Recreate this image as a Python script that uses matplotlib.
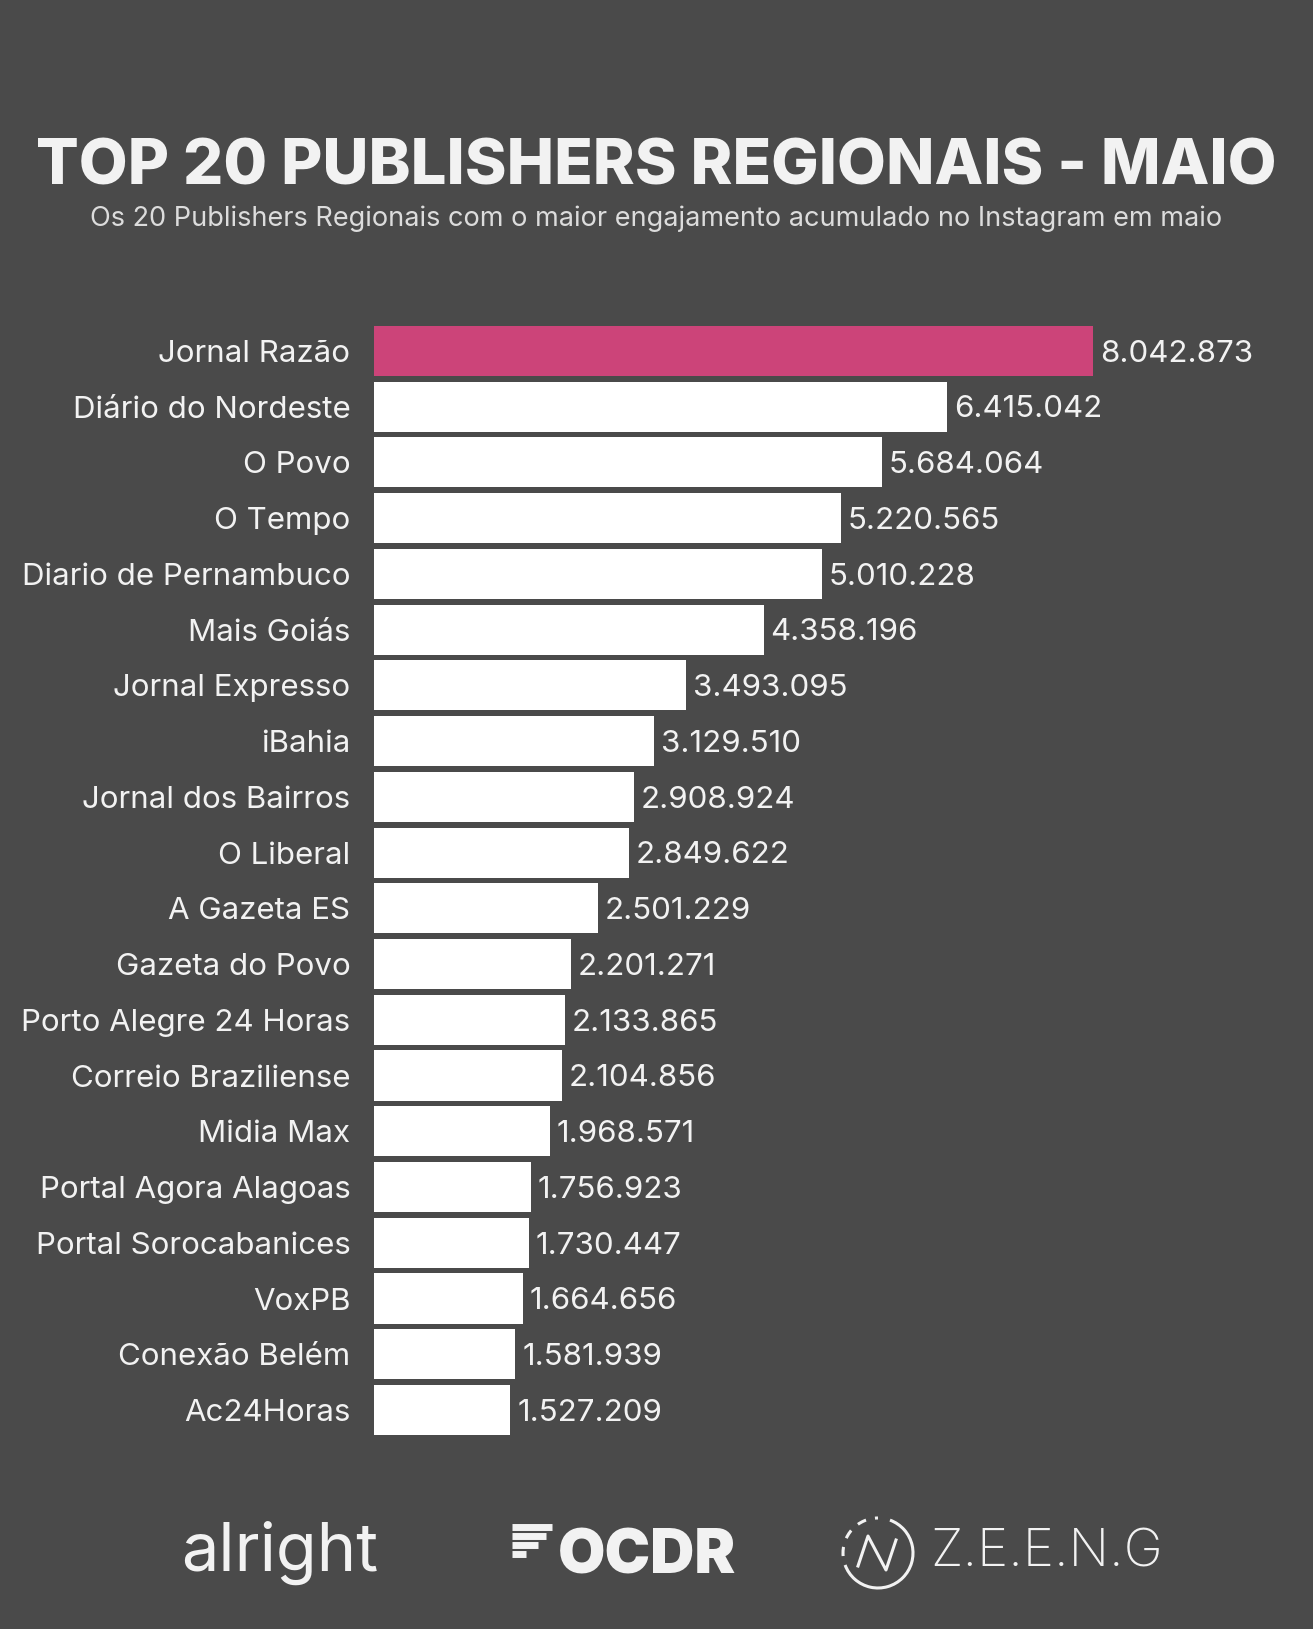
#!/usr/bin/env python3
import matplotlib
matplotlib.use("Agg")
import matplotlib.pyplot as plt
from matplotlib.patches import Arc

BG = "#4a4a4a"
PINK = "#cc4479"
TEXT = "#f2f2f2"

PUBLISHERS = [
    "Jornal Razão", "Diário do Nordeste", "O Povo", "O Tempo",
    "Diario de Pernambuco", "Mais Goiás", "Jornal Expresso", "iBahia",
    "Jornal dos Bairros", "O Liberal", "A Gazeta ES", "Gazeta do Povo",
    "Porto Alegre 24 Horas", "Correio Braziliense", "Midia Max",
    "Portal Agora Alagoas", "Portal Sorocabanices", "VoxPB",
    "Conexão Belém", "Ac24Horas",
]
ENGAGEMENT = [
    8042873, 6415042, 5684064, 5220565, 5010228, 4358196, 3493095,
    3129510, 2908924, 2849622, 2501229, 2201271, 2133865, 2104856,
    1968571, 1756923, 1730447, 1664656, 1581939, 1527209,
]

TITLE = "TOP 20 PUBLISHERS REGIONAIS - MAIO"
SUBTITLE = "Os 20 Publishers Regionais com o maior engajamento acumulado no Instagram em maio"

plt.rcParams["font.family"] = ["Inter", "DejaVu Sans"]


def fmt(v):
    return f"{v:,}".replace(",", ".")


fig = plt.figure(figsize=(13.13, 16.29), dpi=100, facecolor=BG)
ax = fig.add_axes([0.2848, 0.1173, 0.7052, 0.6844])
ax.set_facecolor(BG)

y = list(range(len(PUBLISHERS)))
colors = [PINK] + ["white"] * (len(PUBLISHERS) - 1)
bars = ax.barh(y, ENGAGEMENT, height=0.9, color=colors)
ax.set_ylim(len(PUBLISHERS) - 0.5, -0.5)
ax.set_xlim(0, 10.358e6)

for bar, v in zip(bars, ENGAGEMENT):
    ax.annotate(fmt(v), xy=(bar.get_width(), bar.get_y() + bar.get_height() / 2),
                xytext=(5, -2), textcoords="offset points",
                ha="left", va="center", fontsize=22.5, color=TEXT)

ax.set_yticks(y)
ax.set_yticklabels(PUBLISHERS, fontsize=22.5, color=TEXT)
ax.tick_params(axis="y", length=0, pad=17)
ax.set_xticks([])
for s in ax.spines.values():
    s.set_visible(False)

fig.text(0.5, 0.8968, TITLE, ha="center", va="center", fontsize=45.6,
         fontweight="heavy", color=TEXT)
fig.text(0.5, 0.8655, SUBTITLE, ha="center", va="center", fontsize=19.5,
         color="#dcdcdc")

# partner logos, as text
fig.text(0.213, 0.0467, "alright", ha="center", va="center", fontsize=48,
         fontweight="normal", color=TEXT)
fig.text(0.493, 0.044, "OCDR", ha="center", va="center", fontsize=44,
         fontweight="black", color=TEXT)
ax_logo = fig.add_axes([0.0, 0.0, 1.0, 1.0], facecolor="none")
ax_logo.set_xlim(0, 1313)
ax_logo.set_ylim(1629, 0)
ax_logo.axis("off")
# stripes of the OCDR mark
for i, w in enumerate([40, 34, 26, 14]):
    ax_logo.plot([512, 512 + w], [1527 + i * 9, 1527 + i * 9], color=TEXT, lw=5,
                 solid_capstyle="butt")
ax_logo.add_patch(Arc((878, 1553), 70, 70, theta1=-70, theta2=160, ec=TEXT, lw=2.2))
ax_logo.add_patch(Arc((878, 1553), 70, 70, theta1=175, theta2=270, ec=TEXT, lw=2.2,
                      ls=(0, (3, 3))))
ax_logo.plot([858, 868, 886, 896], [1566, 1536, 1570, 1540], color=TEXT, lw=2.2)
fig.text(0.797, 0.0467, "Z.E.E.N.G", ha="center", va="center", fontsize=38,
         fontweight="light", color=TEXT)

fig.savefig("out.png", dpi=100, facecolor=BG)
